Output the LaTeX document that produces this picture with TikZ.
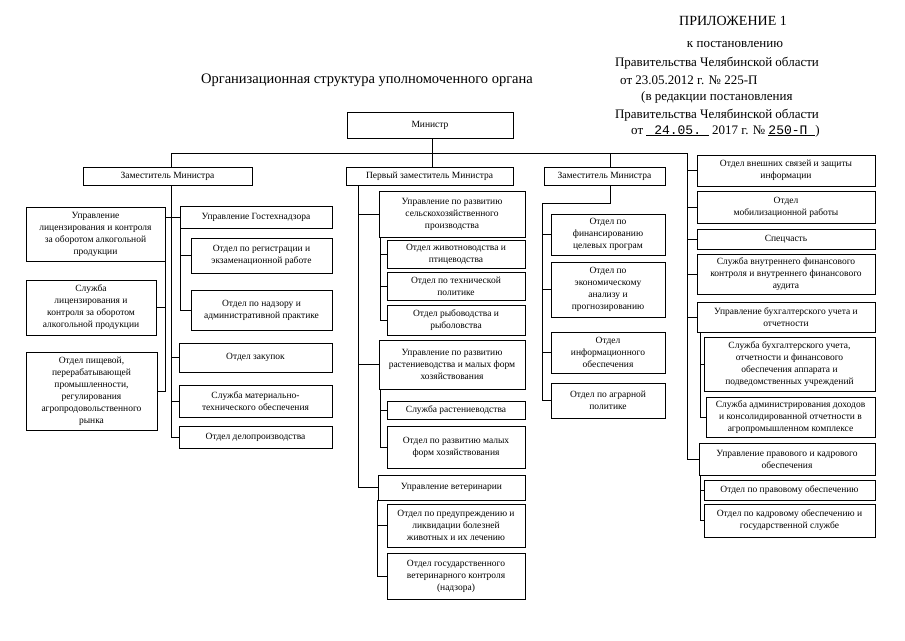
\documentclass[tikz,border=0pt]{standalone}
\usepackage{fontspec}
\setmainfont{Liberation Serif}
\setmonofont{Liberation Mono}
\tikzset{
  box/.style={draw, line width=0.6pt, align=center, inner sep=1pt, font=\fontsize{9.5}{12}\selectfont},
  ln/.style={line width=0.6pt},
  hdr/.style={font=\fontsize{13}{15}\selectfont, inner sep=0pt}
}
\newcommand\bx[6]{\node[box, minimum width={#4-#2}, minimum height={#5-#3}] (#1) at ({(#2+#4)/2},{(#3+#5)/2}) {#6};}
\begin{document}
\begin{tikzpicture}[x=1pt,y=-1pt]
\useasboundingbox (0,0) rectangle (905,640);
% header
\node[hdr, font=\fontsize{14}{16}\selectfont] (h1) at (733,21) {ПРИЛОЖЕНИЕ 1};
\node[hdr] (h2) at (735,44) {к постановлению};
\node[hdr] (h3) at (717,63) {Правительства Челябинской области};
\node[hdr, anchor=west] (h4) at (620,80) {от 23.05.2012 г. № 225-П};
\node[hdr, anchor=west] (h5) at (641,97) {(в редакции постановления};
\node[hdr] (h6) at (717,115) {Правительства Челябинской области};
\node[hdr, anchor=west] (h7) at (631,131) {от \underline{\ttfamily\ 24.05.\ } 2017 г. № \underline{\ttfamily 250-П\ })};
\node[font=\fontsize{14.5}{17}\selectfont, inner sep=0pt] (title) at (367,80) {Организационная структура уполномоченного органа};
% top
\bx{min}{347}{112}{513}{138}{Министр}
\bx{z1}{83}{167}{252}{185}{Заместитель Министра}
\bx{z2}{346}{167}{513}{185}{Первый заместитель Министра}
\bx{z3}{544}{167}{665}{185}{Заместитель Министра}
% left block
\bx{a1}{26}{207}{165}{261}{Управление\\лицензирования и контроля\\за оборотом алкогольной\\продукции}
\bx{a2}{26}{280}{156}{335}{Служба\\лицензирования и\\контроля за оборотом\\алкогольной продукции}
\bx{a3}{26}{352}{157}{430}{Отдел пищевой,\\перерабатывающей\\промышленности,\\регулирования\\агропродовольственного\\рынка}
\bx{b0}{180}{206}{332}{228}{Управление Гостехнадзора}
\bx{b1}{191}{238}{332}{273}{Отдел по регистрации и\\экзаменационной работе}
\bx{b2}{191}{290}{332}{330}{Отдел по надзору и\\административной практике}
\bx{b3}{179}{343}{332}{372}{Отдел закупок}
\bx{b4}{179}{385}{332}{417}{Служба материально-\\технического обеспечения}
\bx{b5}{179}{426}{332}{448}{Отдел делопроизводства}
% middle block
\bx{c0}{379}{191}{525}{237}{Управление по развитию\\сельскохозяйственного\\производства}
\bx{c1}{387}{240}{525}{268}{Отдел животноводства и\\птицеводства}
\bx{c2}{387}{272}{525}{300}{Отдел по технической\\политике}
\bx{c3}{387}{305}{525}{335}{Отдел рыбоводства и\\рыболовства}
\bx{c4}{379}{340}{525}{389}{Управление по развитию\\растениеводства и малых форм\\хозяйствования}
\bx{c5}{387}{401}{525}{419}{Служба растениеводства}
\bx{c6}{387}{426}{525}{468}{Отдел по развитию малых\\форм хозяйствования}
\bx{c7}{378}{475}{525}{500}{Управление ветеринарии}
\bx{c8}{387}{504}{525}{547}{Отдел по предупреждению и\\ликвидации болезней\\животных и их лечению}
\bx{c9}{387}{553}{525}{599}{Отдел государственного\\ветеринарного контроля\\(надзора)}
% middle-right block
\bx{d1}{551}{214}{665}{255}{Отдел по\\финансированию\\целевых програм}
\bx{d2}{551}{262}{665}{317}{Отдел по\\экономическому\\анализу и\\прогнозированию}
\bx{d3}{551}{332}{665}{373}{Отдел\\информационного\\обеспечения}
\bx{d4}{551}{383}{665}{418}{Отдел по аграрной\\политике}
% right block
\bx{r1}{697}{155}{875}{186}{Отдел внешних связей и защиты\\информации}
\bx{r2}{697}{191}{875}{223}{Отдел\\мобилизационной работы}
\bx{r3}{697}{229}{875}{249}{Спецчасть}
\bx{r4}{697}{254}{875}{294}{Служба внутреннего финансового\\контроля и внутреннего финансового\\аудита}
\bx{r5}{697}{302}{875}{332}{Управление бухгалтерского учета и\\отчетности}
\bx{r6}{704}{337}{875}{391}{Служба бухгалтерского учета,\\отчетности и финансового\\обеспечения аппарата и\\подведомственных учреждений}
\bx{r7}{706}{397}{875}{437}{Служба администрирования доходов\\и консолидированной отчетности в\\агропромышленном комплексе}
\bx{r8}{699}{443}{875}{475}{Управление правового и кадрового\\обеспечения}
\bx{r9}{704}{480}{875}{500}{Отдел по правовому обеспечению}
\bx{r10}{704}{504}{875}{537}{Отдел по кадровому обеспечению и\\государственной службе}
% connectors
\coordinate (busL) at (171,153);
\coordinate (busR) at (687,153);
\draw[ln] (busL) -- (busR);
\draw[ln] ([xshift=2pt]min.south) -- ([xshift=2pt]min.south |- busL);
\draw[ln] (busL) -- (busL |- z1.north);
\draw[ln] ([xshift=2.5pt]z2.north) -- ([xshift=2.5pt]z2.north |- busL);
\draw[ln] ([xshift=5.5pt]z3.north) -- ([xshift=5.5pt]z3.north |- busL);
% left
\draw[ln] (busL |- z1.south) |- (b5.west);
\draw[ln] (busL |- b3.west) -- (b3.west);
\draw[ln] (busL |- b4.west) -- (b4.west);
\draw[ln] (a1.east |- b0.west) -- (b0.west);
\draw[ln] (a1.south east) |- (a3.east);
\draw[ln] (a1.south east |- a2.east) -- (a2.east);
\coordinate (bv) at ([xshift=1pt]b0.south west);
\draw[ln] (bv) |- (b2.west);
\draw[ln] (bv |- b1.west) -- (b1.west);
% middle
\coordinate (mv) at ([xshift=13pt]z2.south west);
\draw[ln] (mv) |- (c7.west);
\draw[ln] (mv |- c0.west) -- (c0.west);
\draw[ln] (mv |- c4.west) -- (c4.west);
\coordinate (cv1) at ([xshift=2pt]c0.south west);
\draw[ln] (cv1) |- (c3.west);
\draw[ln] (cv1 |- c1.west) -- (c1.west);
\draw[ln] (cv1 |- c2.west) -- (c2.west);
\coordinate (cv2) at ([xshift=2pt]c4.south west);
\draw[ln] (cv2) |- (c6.west);
\draw[ln] (cv2 |- c5.west) -- (c5.west);
\coordinate (cv3) at (c7.south west);
\draw[ln] (cv3) |- (c9.west);
\draw[ln] (cv3 |- c8.west) -- (c8.west);
% middle-right
\coordinate (dk) at (542,203);
\draw[ln] ([xshift=5.5pt]z3.south) |- (dk) |- (d4.west);
\draw[ln] (dk |- d1.west) -- (d1.west);
\draw[ln] (dk |- d2.west) -- (d2.west);
\draw[ln] (dk |- d3.west) -- (d3.west);
% right
\draw[ln] (busR) |- (r8.west);
\draw[ln] (busR |- r1.west) -- (r1.west);
\draw[ln] (busR |- r2.west) -- (r2.west);
\draw[ln] (busR |- r3.west) -- (r3.west);
\draw[ln] (busR |- r4.west) -- (r4.west);
\draw[ln] (busR |- r5.west) -- (r5.west);
\coordinate (rv1) at ([xshift=4pt]r5.south west);
\draw[ln] (rv1) |- (r7.west);
\draw[ln] (rv1 |- r6.west) -- (r6.west);
\coordinate (rv2) at ([xshift=2pt]r8.south west);
\draw[ln] (rv2) |- (r10.west);
\draw[ln] (rv2 |- r9.west) -- (r9.west);
\end{tikzpicture}
\end{document}
